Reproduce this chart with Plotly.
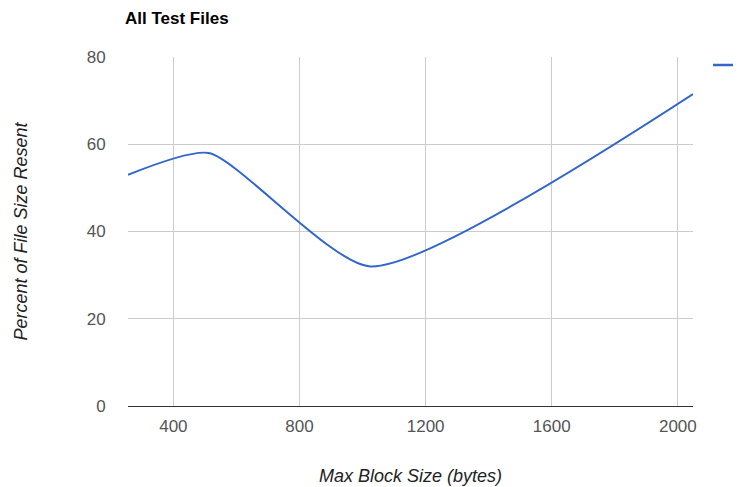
import plotly.graph_objects as go

block_sizes = [256, 512, 1024, 2048]
percent_resent = [53, 58, 32, 71.5]
x_ticks = [400, 800, 1200, 1600, 2000]
y_ticks = [0, 20, 40, 60, 80]

fig = go.Figure()
fig.add_trace(go.Scatter(
    x=block_sizes, y=percent_resent, mode="lines",
    line=dict(color="#3366CC", width=2, shape="spline", smoothing=0.6),
    showlegend=False, hoverinfo="skip",
))

font_family = "Arial, Liberation Sans, sans-serif"
L, R, T, B = 120, 56, 49, 89
W, H = 741, 487
pw, ph = W - L - R, H - T - B
fig.update_layout(
    width=W, height=H,
    margin=dict(l=L, r=R, t=T, b=B),
    paper_bgcolor="white", plot_bgcolor="white",
    font=dict(family=font_family, color="#444444", size=17),
    title=dict(text="<b>All Test Files</b>", x=117/W, xanchor="left",
               y=1-10/H, yanchor="middle",
               font=dict(family=font_family, size=17, color="#000000")),
    xaxis=dict(range=[256, 2048], tickvals=x_ticks, showgrid=True,
               gridcolor="#cccccc", gridwidth=1, zeroline=False,
               ticks="outside", ticklen=5, tickcolor="rgba(0,0,0,0)",
               showline=False, tickfont=dict(size=17, color="#555555"),
               title=dict(text="<i>Max Block Size (bytes)</i>", standoff=33,
                          font=dict(size=18, color="#222222"))),
    yaxis=dict(range=[0, 80], tickvals=y_ticks, showgrid=True,
               gridcolor="#cccccc", gridwidth=1, zeroline=True,
               zerolinecolor="#333333", zerolinewidth=1,
               ticks="outside", ticklen=18, tickcolor="rgba(0,0,0,0)",
               showline=False, tickfont=dict(size=17, color="#555555"),
               title=dict(text="<i>Percent of File Size Resent</i>", standoff=54,
                          font=dict(size=18, color="#222222"))),
)
# legend key line (legend label is cut off at the right edge in the reference)
fig.add_shape(type="line", xref="paper", yref="paper",
              x0=(705-L)/pw, x1=(745-L)/pw, y0=(398-57)/ph, y1=(398-57)/ph,
              line=dict(color="#3366CC", width=2.5))

fig.write_html("out.html")
